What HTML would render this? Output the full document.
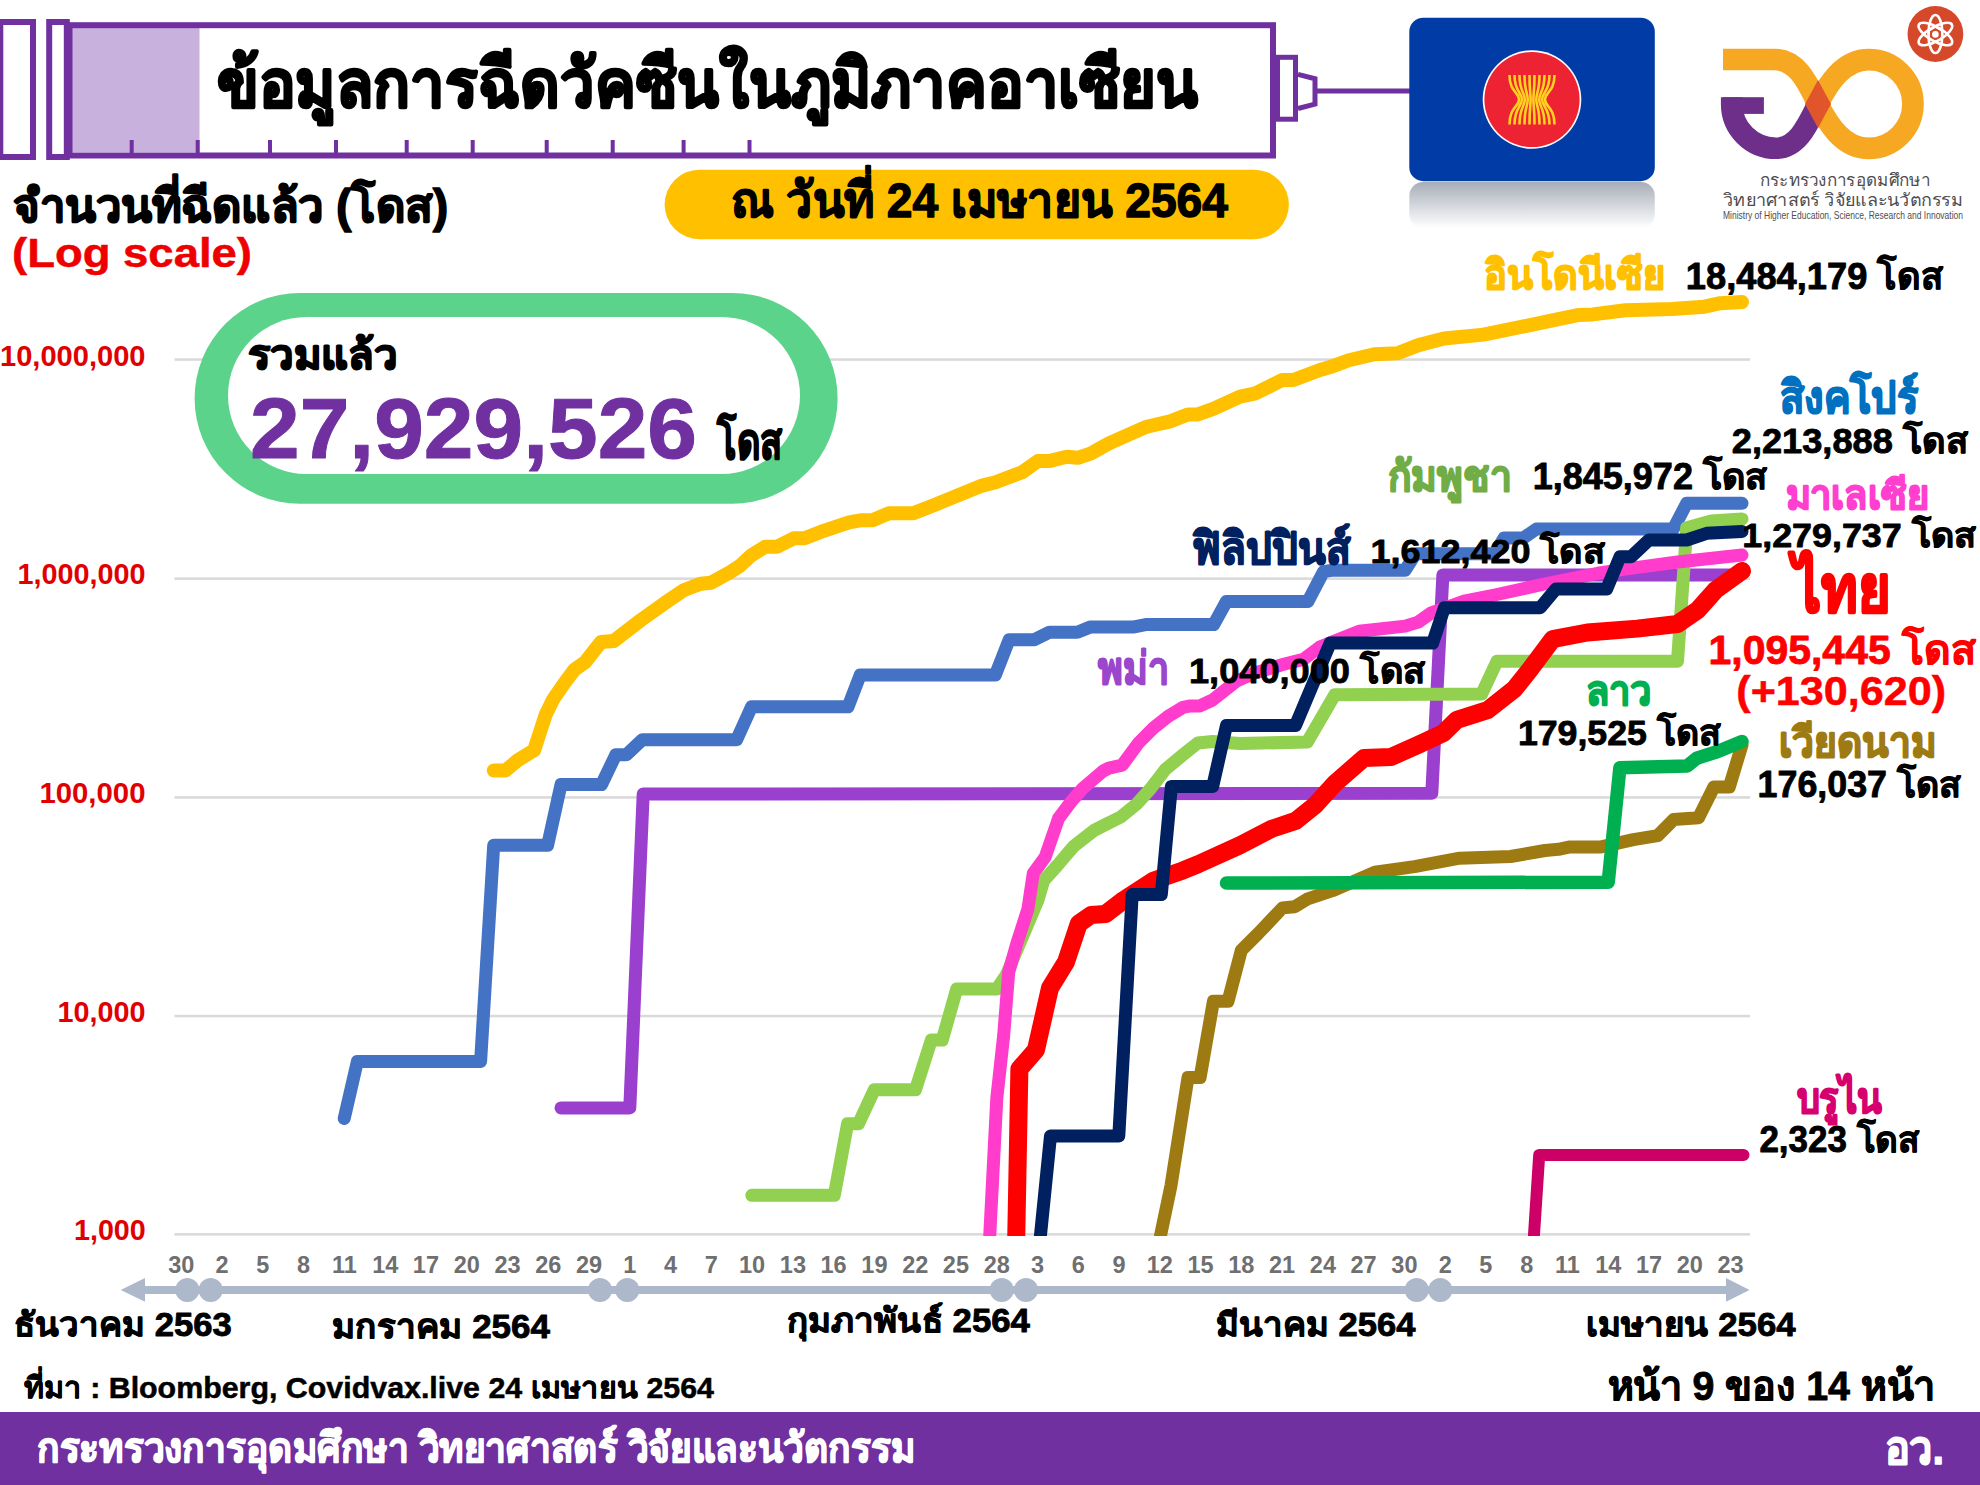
<!DOCTYPE html>
<html><head><meta charset="utf-8"><title>ASEAN vaccination</title>
<style>
html,body{margin:0;padding:0;background:#fff;width:1980px;height:1485px;overflow:hidden}
svg{display:block;font-family:"Liberation Sans",sans-serif;font-weight:bold}
</style></head><body>
<svg width="1980" height="1485" viewBox="0 0 1980 1485">
<defs>
<clipPath id="plot"><rect x="170" y="250" width="1620" height="986"/></clipPath>
<linearGradient id="refl" x1="0" y1="0" x2="0" y2="1">
<stop offset="0" stop-color="#9EA4B0"/><stop offset="0.45" stop-color="#C9CDD4"/><stop offset="1" stop-color="#FFFFFF"/>
</linearGradient>
</defs>

<rect x="72" y="28" width="127.5" height="124" fill="#C9B1DD"/>
<rect x="0.3" y="22" width="32.7" height="135" fill="none" stroke="#7030A0" stroke-width="6"/>
<rect x="49.2" y="22" width="17.6" height="135" fill="none" stroke="#7030A0" stroke-width="6"/>
<rect x="69.5" y="25.2" width="1203.5" height="130.3" fill="none" stroke="#7030A0" stroke-width="6"/>
<rect x="129.7" y="140" width="4" height="13" fill="#7030A0"/>
<rect x="195.7" y="140" width="4" height="13" fill="#7030A0"/>
<rect x="268.0" y="140" width="4" height="13" fill="#7030A0"/>
<rect x="334.0" y="140" width="4" height="13" fill="#7030A0"/>
<rect x="404.7" y="140" width="4" height="13" fill="#7030A0"/>
<rect x="470.7" y="140" width="4" height="13" fill="#7030A0"/>
<rect x="544.7" y="140" width="4" height="13" fill="#7030A0"/>
<rect x="610.7" y="140" width="4" height="13" fill="#7030A0"/>
<rect x="681.6" y="140" width="4" height="13" fill="#7030A0"/>
<rect x="747.5" y="140" width="4" height="13" fill="#7030A0"/>
<rect x="1277.5" y="57.3" width="18" height="61.9" fill="none" stroke="#7030A0" stroke-width="5"/>
<path d="M1298 74.4 L1315 78.8 L1315 104.1 L1298 108.5" fill="none" stroke="#7030A0" stroke-width="5"/>
<rect x="1317" y="88.5" width="93" height="5" fill="#7030A0"/>
<rect x="1409.3" y="182" width="245.5" height="46" fill="url(#refl)" opacity="0.9" rx="14"/>
<rect x="1409.3" y="17.7" width="245.5" height="163.5" rx="14" fill="#003BA6"/>
<circle cx="1532" cy="99.5" r="49.3" fill="#FFFFFF"/>
<circle cx="1532" cy="99.5" r="47.6" fill="#ED2233"/>
<path d="M1509.5 75 C1509.5 92 1519.0 92 1519.0 99.5 C1519.0 107 1509.5 107 1509.5 124.5 M1514.5 75 C1514.5 92 1521.9 92 1521.9 99.5 C1521.9 107 1514.5 107 1514.5 124.5 M1519.5 75 C1519.5 92 1524.8 92 1524.8 99.5 C1524.8 107 1519.5 107 1519.5 124.5 M1524.5 75 C1524.5 92 1527.7 92 1527.7 99.5 C1527.7 107 1524.5 107 1524.5 124.5 M1529.5 75 C1529.5 92 1530.6 92 1530.6 99.5 C1530.6 107 1529.5 107 1529.5 124.5 M1534.5 75 C1534.5 92 1533.4 92 1533.4 99.5 C1533.4 107 1534.5 107 1534.5 124.5 M1539.5 75 C1539.5 92 1536.3 92 1536.3 99.5 C1536.3 107 1539.5 107 1539.5 124.5 M1544.5 75 C1544.5 92 1539.2 92 1539.2 99.5 C1539.2 107 1544.5 107 1544.5 124.5 M1549.5 75 C1549.5 92 1542.1 92 1542.1 99.5 C1542.1 107 1549.5 107 1549.5 124.5 M1554.5 75 C1554.5 92 1545.0 92 1545.0 99.5 C1545.0 107 1554.5 107 1554.5 124.5" fill="none" stroke="#FFD21F" stroke-width="2.6"/>
<path d="M1818 104 C1808 124 1798 148.25 1776 148.25 A44.25 44.25 0 0 1 1731.75 104 V97.2" fill="none" stroke="#6E2F8A" stroke-width="21.7"/>
<rect x="1723" y="97.2" width="40.9" height="16.7" fill="#6E2F8A"/>
<path d="M1723 59.5 H1774 C1798 59.5 1808 84 1818 104 C1828 124 1843 148.3 1868.7 148.3 A44.25 44.25 0 0 0 1912.95 104 A44.25 44.25 0 0 0 1868.7 59.7 C1843 59.7 1828 84 1818 104" fill="none" stroke="#F7A823" stroke-width="21.7"/>
<path d="M1818 80 L1831 104 L1818 128 L1805 104 Z" fill="#E0562A"/>
<circle cx="1935.4" cy="34" r="27.9" fill="#D5492A"/>
<g fill="none" stroke="#fff" stroke-width="2.6"><ellipse cx="1935.4" cy="34" rx="7" ry="19"/><ellipse cx="1935.4" cy="34" rx="7" ry="19" transform="rotate(60 1935.4 34)"/><ellipse cx="1935.4" cy="34" rx="7" ry="19" transform="rotate(-60 1935.4 34)"/><polygon points="1935.40,41.70 1929.08,38.05 1929.08,30.75 1935.40,27.10 1941.72,30.75 1941.72,38.05" stroke-width="1.5"/></g><circle cx="1935.4" cy="34.4" r="3.3" fill="#fff"/>
<text x="1759.6" y="185.8" font-size="16.5" font-weight="normal" fill="#4D4D4F" textLength="170.4" lengthAdjust="spacingAndGlyphs">กระทรวงการอุดมศึกษา</text>
<text x="1723" y="206" font-size="17.5" font-weight="normal" fill="#4D4D4F" textLength="240" lengthAdjust="spacingAndGlyphs">วิทยาศาสตร์ วิจัยและนวัตกรรม</text>
<text x="1723" y="219" font-size="10.5" font-weight="normal" fill="#4D4D4F" textLength="240" lengthAdjust="spacingAndGlyphs">Ministry of Higher Education, Science, Research and Innovation</text>
<rect x="174.5" y="358.3" width="1575.5" height="2.5" fill="#D9D9D9"/>
<rect x="174.5" y="577.4" width="1575.5" height="2.5" fill="#D9D9D9"/>
<rect x="174.5" y="796.2" width="1575.5" height="2.5" fill="#D9D9D9"/>
<rect x="174.5" y="1014.8" width="1575.5" height="2.5" fill="#D9D9D9"/>
<rect x="174.5" y="1233.1" width="1575.5" height="2.5" fill="#D9D9D9"/>
<rect x="664.6" y="169.7" width="624.3" height="69.5" rx="34.75" fill="#FFC000"/>
<rect x="194.6" y="293" width="643" height="210.7" rx="105.3" fill="#5BD38B"/>
<rect x="228" y="317" width="572" height="157" rx="78.5" fill="#FFFFFF"/>
<g clip-path="url(#plot)" fill="none" stroke-linejoin="round" stroke-linecap="round">
<path d="M344.2 1118.5 L357.4 1061.4 L480.6 1061.4 L493.7 845.3 L547.6 845.3 L561.0 784.6 L601.5 784.6 L615.8 754.8 L626.4 754.8 L642.3 739.7 L736.7 739.7 L751.5 706.8 L848.0 706.8 L860.2 675.1 L995.3 675.1 L1009.2 639.7 L1034.4 639.7 L1049.6 632.2 L1077.4 632.2 L1090.0 627.1 L1132.9 627.1 L1145.6 624.6 L1213.7 624.6 L1226.4 601.5 L1307.9 601.5 L1323.6 571.6 L1331.5 570.3 L1405.1 570.3 L1415.6 553.8 L1494.4 553.8 L1504.0 538.1 L1523.2 538.1 L1536.4 529.0 L1673.3 529.0 L1686.7 503.3 L1742.0 503.3" stroke="#4472C4" stroke-width="13"/>
<path d="M561.0 1107.9 L629.8 1107.9 L643.2 794.0 L1431.8 793.3 L1442.9 574.9 L1729.0 575.0" stroke="#9B3FCF" stroke-width="13"/>
<path d="M751.8 1195.3 L834.3 1195.3 L847.6 1123.7 L858.5 1123.7 L874.3 1089.8 L915.5 1089.8 L931.3 1040.1 L942.2 1040.1 L956.7 989.1 L996.8 989.1 L1006.5 974.6 L1038.0 900.0 L1043.7 880.7 L1057.0 865.9 L1073.3 846.7 L1094.1 830.4 L1105.9 824.4 L1120.7 817.0 L1137.0 803.7 L1150.4 788.9 L1165.2 769.6 L1183.0 754.8 L1197.8 743.0 L1212.6 741.5 L1240.0 743.5 L1307.3 742.1 L1334.8 694.8 L1481.7 693.9 L1497.0 661.3 L1677.5 661.3 L1686.7 527.8 L1711.1 521.1 L1742.0 519.0" stroke="#92D050" stroke-width="13"/>
<path d="M989.0 1250.0 L996.8 1098.3 L1003.7 1035.2 L1008.7 972.2 L1017.0 943.0 L1027.9 909.1 L1033.3 873.3 L1045.2 857.0 L1058.5 818.5 L1071.9 800.7 L1082.2 788.9 L1103.0 771.1 L1108.9 768.1 L1122.2 765.2 L1138.5 743.0 L1153.3 728.1 L1168.1 716.3 L1183.0 707.4 L1190.4 705.9 L1200.0 705.9 L1212.6 700.0 L1236.4 681.1 L1254.1 673.2 L1283.6 664.3 L1303.3 659.4 L1319.7 647.1 L1359.1 631.3 L1405.1 626.1 L1418.2 622.1 L1431.3 612.9 L1464.2 601.1 L1497.0 594.5 L1544.3 584.0 L1597.8 573.3 L1626.7 568.9 L1675.6 562.2 L1742.0 555.0" stroke="#FF3CCC" stroke-width="13"/>
<path d="M1016.0 1250.0 L1019.4 1069.0 L1036.0 1049.8 L1050.0 988.0 L1066.0 962.0 L1078.8 923.7 L1091.0 915.0 L1105.5 914.0 L1123.7 900.0 L1153.3 880.7 L1183.0 870.4 L1197.8 864.4 L1240.0 845.2 L1271.8 828.8 L1295.5 820.9 L1315.1 805.2 L1334.8 783.5 L1364.0 758.0 L1391.0 757.0 L1418.4 744.7 L1443.3 733.2 L1456.8 719.8 L1487.5 710.2 L1514.3 689.1 L1529.7 669.9 L1552.7 639.2 L1587.3 632.5 L1637.2 628.6 L1677.5 624.0 L1697.8 610.0 L1715.6 590.0 L1742.0 571.0" stroke="#FF0000" stroke-width="18"/>
<path d="M1039.0 1250.0 L1050.5 1136.0 L1118.8 1136.0 L1132.2 894.6 L1161.3 894.6 L1171.4 786.4 L1212.7 786.4 L1226.5 725.4 L1295.5 725.4 L1330.2 643.1 L1432.6 643.1 L1444.4 607.7 L1540.3 607.7 L1556.0 588.9 L1606.7 588.9 L1620.0 556.7 L1631.1 556.7 L1648.9 540.0 L1686.7 540.0 L1706.7 533.3 L1742.0 531.5" stroke="#002060" stroke-width="13"/>
<path d="M1157.5 1250.0 L1171.0 1185.6 L1188.0 1077.6 L1200.1 1077.6 L1213.4 1001.3 L1228.0 1001.3 L1241.3 950.3 L1258.3 933.4 L1282.5 907.9 L1294.7 906.7 L1307.0 899.2 L1332.4 890.7 L1374.9 872.3 L1414.5 866.6 L1459.7 858.2 L1510.6 856.5 L1545.0 850.5 L1558.5 849.3 L1570.0 846.9 L1601.2 846.9 L1633.3 839.7 L1657.7 835.6 L1673.6 819.6 L1698.6 817.7 L1713.9 787.0 L1729.3 787.0 L1742.0 745.0" stroke="#9E7B12" stroke-width="13"/>
<path d="M1226.5 883.0 L1608.2 882.2 L1619.9 767.8 L1687.1 765.9 L1696.7 758.2 L1717.8 751.5 L1742.0 741.5" stroke="#00B050" stroke-width="13.5"/>
<path d="M1533.0 1250.0 L1539.2 1155.0 L1743.5 1155.0" stroke="#CC0066" stroke-width="12"/>
<path d="M493.8 770.5 L505.5 770.5 L518.2 759.9 L534.1 750.3 L545.8 714.3 L553.2 699.4 L564.9 682.4 L574.4 669.7 L585.0 662.3 L600.9 642.1 L613.6 641.1 L641.2 619.9 L666.7 601.8 L683.6 590.2 L700.6 583.8 L711.2 582.7 L730.3 572.1 L739.9 565.8 L751.5 555.2 L765.3 546.7 L777.0 546.7 L794.0 538.2 L804.6 538.2 L823.7 530.8 L849.1 522.3 L861.8 520.2 L872.5 520.2 L888.9 513.3 L913.3 513.3 L935.6 504.4 L982.2 485.6 L995.6 482.2 L1022.2 472.2 L1037.8 461.1 L1048.9 461.1 L1066.7 456.7 L1077.8 457.8 L1091.1 453.3 L1108.9 443.3 L1146.7 426.7 L1171.1 421.1 L1187.8 414.4 L1197.8 414.4 L1213.3 408.9 L1240.0 396.7 L1255.6 393.3 L1282.2 380.0 L1293.3 380.0 L1320.0 370.0 L1330.2 367.1 L1348.8 360.2 L1374.3 354.3 L1397.6 353.2 L1418.5 345.1 L1444.0 338.5 L1483.5 334.6 L1534.7 324.1 L1578.8 314.9 L1592.8 314.4 L1625.3 310.2 L1671.7 309.0 L1704.3 306.7 L1720.5 303.2 L1742.0 302.0" stroke="#FFC000" stroke-width="14"/>
</g>
<rect x="140" y="1286" width="1590" height="8" fill="#ADB9CA"/>
<path d="M120.7 1290 L145 1278 L145 1301.7 Z M1749.6 1290 L1726 1278 L1726 1301.7 Z" fill="#ADB9CA"/>
<circle cx="187.3" cy="1290" r="12" fill="#ADB9CA"/>
<circle cx="210.7" cy="1290" r="12" fill="#ADB9CA"/>
<circle cx="600" cy="1290" r="12" fill="#ADB9CA"/>
<circle cx="627.3" cy="1290" r="12" fill="#ADB9CA"/>
<circle cx="1001.7" cy="1290" r="12" fill="#ADB9CA"/>
<circle cx="1026" cy="1290" r="12" fill="#ADB9CA"/>
<circle cx="1416.7" cy="1290" r="12" fill="#ADB9CA"/>
<circle cx="1440.3" cy="1290" r="12" fill="#ADB9CA"/>
<g font-size="23.5" fill="#6F6F6F" text-anchor="middle">
<text x="181.3" y="1272.7">30</text>
<text x="222.1" y="1272.7">2</text>
<text x="262.8" y="1272.7">5</text>
<text x="303.6" y="1272.7">8</text>
<text x="344.4" y="1272.7">11</text>
<text x="385.2" y="1272.7">14</text>
<text x="425.9" y="1272.7">17</text>
<text x="466.7" y="1272.7">20</text>
<text x="507.5" y="1272.7">23</text>
<text x="548.2" y="1272.7">26</text>
<text x="589.0" y="1272.7">29</text>
<text x="629.8" y="1272.7">1</text>
<text x="670.5" y="1272.7">4</text>
<text x="711.3" y="1272.7">7</text>
<text x="752.1" y="1272.7">10</text>
<text x="792.9" y="1272.7">13</text>
<text x="833.6" y="1272.7">16</text>
<text x="874.4" y="1272.7">19</text>
<text x="915.2" y="1272.7">22</text>
<text x="955.9" y="1272.7">25</text>
<text x="996.7" y="1272.7">28</text>
<text x="1037.5" y="1272.7">3</text>
<text x="1078.2" y="1272.7">6</text>
<text x="1119.0" y="1272.7">9</text>
<text x="1159.8" y="1272.7">12</text>
<text x="1200.6" y="1272.7">15</text>
<text x="1241.3" y="1272.7">18</text>
<text x="1282.1" y="1272.7">21</text>
<text x="1322.9" y="1272.7">24</text>
<text x="1363.6" y="1272.7">27</text>
<text x="1404.4" y="1272.7">30</text>
<text x="1445.2" y="1272.7">2</text>
<text x="1485.9" y="1272.7">5</text>
<text x="1526.7" y="1272.7">8</text>
<text x="1567.5" y="1272.7">11</text>
<text x="1608.2" y="1272.7">14</text>
<text x="1649.0" y="1272.7">17</text>
<text x="1689.8" y="1272.7">20</text>
<text x="1730.6" y="1272.7">23</text>
</g>
<rect x="0" y="1412" width="1980" height="73" fill="#7030A0"/>
<text x="217" y="107" font-size="67" fill="#000" stroke="#000" stroke-width="2.55" stroke-linejoin="round" textLength="981.0" lengthAdjust="spacingAndGlyphs">ข้อมูลการฉีดวัคซีนในภูมิภาคอาเซียน</text>
<text x="13" y="222" font-size="46" fill="#000" stroke="#000" stroke-width="1.7" stroke-linejoin="round" textLength="435.0" lengthAdjust="spacingAndGlyphs">จำนวนที่ฉีดแล้ว (โดส)</text>
<text x="12" y="267" font-size="40" fill="#EE0000" stroke="#EE0000" stroke-width="0.5" stroke-linejoin="round" textLength="240.0" lengthAdjust="spacingAndGlyphs">(Log scale)</text>
<text x="731" y="217" font-size="49" fill="#000" stroke="#000" stroke-width="1.36" stroke-linejoin="round" textLength="497.0" lengthAdjust="spacingAndGlyphs">ณ วันที่ 24 เมษายน 2564</text>
<text x="248" y="369" font-size="41" fill="#000" stroke="#000" stroke-width="1.7" stroke-linejoin="round" textLength="149.0" lengthAdjust="spacingAndGlyphs">รวมแล้ว</text>
<text x="250" y="458" font-size="86" fill="#7030A0" stroke="#7030A0" stroke-width="1" stroke-linejoin="round" textLength="447.0" lengthAdjust="spacingAndGlyphs">27,929,526</text>
<text x="717" y="459" font-size="50" fill="#000" stroke="#000" stroke-width="1.7" stroke-linejoin="round" textLength="65.0" lengthAdjust="spacingAndGlyphs">โดส</text>
<text x="0" y="365.6" font-size="29" fill="#E00000" textLength="145.5" lengthAdjust="spacingAndGlyphs">10,000,000</text>
<text x="17.4" y="584" font-size="29" fill="#E00000" textLength="128.1" lengthAdjust="spacingAndGlyphs">1,000,000</text>
<text x="39.4" y="802.8" font-size="29" fill="#E00000" textLength="106.1" lengthAdjust="spacingAndGlyphs">100,000</text>
<text x="57.6" y="1022" font-size="29" fill="#E00000" textLength="87.9" lengthAdjust="spacingAndGlyphs">10,000</text>
<text x="74" y="1240" font-size="29" fill="#E00000" textLength="71.7" lengthAdjust="spacingAndGlyphs">1,000</text>
<text x="14" y="1336" font-size="33" fill="#000" stroke="#000" stroke-width="0.85" stroke-linejoin="round" textLength="217.7" lengthAdjust="spacingAndGlyphs">ธันวาคม 2563</text>
<text x="332" y="1338" font-size="33" fill="#000" stroke="#000" stroke-width="0.85" stroke-linejoin="round" textLength="218.0" lengthAdjust="spacingAndGlyphs">มกราคม 2564</text>
<text x="786.7" y="1331.7" font-size="33" fill="#000" stroke="#000" stroke-width="0.85" stroke-linejoin="round" textLength="243.3" lengthAdjust="spacingAndGlyphs">กุมภาพันธ์ 2564</text>
<text x="1215.8" y="1335.6" font-size="33" fill="#000" stroke="#000" stroke-width="0.85" stroke-linejoin="round" textLength="199.7" lengthAdjust="spacingAndGlyphs">มีนาคม 2564</text>
<text x="1586" y="1336" font-size="33" fill="#000" stroke="#000" stroke-width="0.85" stroke-linejoin="round" textLength="209.7" lengthAdjust="spacingAndGlyphs">เมษายน 2564</text>
<text x="24" y="1398.3" font-size="30" fill="#000" stroke="#000" stroke-width="0.51" stroke-linejoin="round" textLength="690.0" lengthAdjust="spacingAndGlyphs">ที่มา : Bloomberg, Covidvax.live 24 เมษายน 2564</text>
<text x="1607.8" y="1400.2" font-size="40" fill="#000" stroke="#000" stroke-width="0.85" stroke-linejoin="round" textLength="327.0" lengthAdjust="spacingAndGlyphs">หน้า 9 ของ 14 หน้า</text>
<text x="37" y="1461.7" font-size="41" fill="#FFF" stroke="#FFF" stroke-width="1.36" stroke-linejoin="round" textLength="878.0" lengthAdjust="spacingAndGlyphs">กระทรวงการอุดมศึกษา วิทยาศาสตร์ วิจัยและนวัตกรรม</text>
<text x="1884.8" y="1464.4" font-size="47" fill="#FFF" stroke="#FFF" stroke-width="1.36" stroke-linejoin="round" textLength="59.1" lengthAdjust="spacingAndGlyphs">อว.</text>
<text x="1483.6" y="288.6" font-size="41" fill="#FFC000" stroke="#FFC000" stroke-width="1.7" stroke-linejoin="round" textLength="181.2" lengthAdjust="spacingAndGlyphs">อินโดนีเซีย</text>
<text x="1685.8" y="288.6" font-size="37" fill="#000" stroke="#000" stroke-width="0.85" stroke-linejoin="round" textLength="257.4" lengthAdjust="spacingAndGlyphs">18,484,179 โดส</text>
<text x="1780.4" y="413.3" font-size="45" fill="#0070C0" stroke="#0070C0" stroke-width="1.7" stroke-linejoin="round" textLength="137.8" lengthAdjust="spacingAndGlyphs">สิงคโปร์</text>
<text x="1731.8" y="452.7" font-size="35" fill="#000" stroke="#000" stroke-width="0.85" stroke-linejoin="round" textLength="236.2" lengthAdjust="spacingAndGlyphs">2,213,888 โดส</text>
<text x="1388" y="490.5" font-size="42" fill="#70AD47" stroke="#70AD47" stroke-width="1.7" stroke-linejoin="round" textLength="124.2" lengthAdjust="spacingAndGlyphs">กัมพูชา</text>
<text x="1532.7" y="489" font-size="36" fill="#000" stroke="#000" stroke-width="0.85" stroke-linejoin="round" textLength="234.3" lengthAdjust="spacingAndGlyphs">1,845,972 โดส</text>
<text x="1785.6" y="509.2" font-size="40" fill="#FF3FCF" stroke="#FF3FCF" stroke-width="1.7" stroke-linejoin="round" textLength="143.1" lengthAdjust="spacingAndGlyphs">มาเลเซีย</text>
<text x="1742.3" y="547.2" font-size="34" fill="#000" stroke="#000" stroke-width="0.85" stroke-linejoin="round" textLength="233.7" lengthAdjust="spacingAndGlyphs">1,279,737 โดส</text>
<text x="1191.8" y="564" font-size="45" fill="#002060" stroke="#002060" stroke-width="1.7" stroke-linejoin="round" textLength="158.2" lengthAdjust="spacingAndGlyphs">ฟิลิปปินส์</text>
<text x="1370.4" y="562.7" font-size="34" fill="#000" stroke="#000" stroke-width="0.85" stroke-linejoin="round" textLength="234.6" lengthAdjust="spacingAndGlyphs">1,612,420 โดส</text>
<text x="1097.7" y="684" font-size="45" fill="#9B47CC" stroke="#9B47CC" stroke-width="1.7" stroke-linejoin="round" textLength="70.9" lengthAdjust="spacingAndGlyphs">พม่า</text>
<text x="1189" y="682.7" font-size="35" fill="#000" stroke="#000" stroke-width="0.85" stroke-linejoin="round" textLength="236.0" lengthAdjust="spacingAndGlyphs">1,040,000 โดส</text>
<text x="1793" y="612" font-size="67" fill="#FF0000" stroke="#FF0000" stroke-width="2.55" stroke-linejoin="round" textLength="97.3" lengthAdjust="spacingAndGlyphs">ไทย</text>
<text x="1708.5" y="663.7" font-size="41" fill="#FF0000" stroke="#FF0000" stroke-width="0.85" stroke-linejoin="round" textLength="267.5" lengthAdjust="spacingAndGlyphs">1,095,445 โดส</text>
<text x="1736.3" y="705.4" font-size="41" fill="#FF0000" stroke="#FF0000" stroke-width="0.5" stroke-linejoin="round" textLength="209.7" lengthAdjust="spacingAndGlyphs">(+130,620)</text>
<text x="1586" y="705.4" font-size="41" fill="#00B050" stroke="#00B050" stroke-width="1.7" stroke-linejoin="round" textLength="65.7" lengthAdjust="spacingAndGlyphs">ลาว</text>
<text x="1517.9" y="744.5" font-size="35.5" fill="#000" stroke="#000" stroke-width="0.85" stroke-linejoin="round" textLength="203.3" lengthAdjust="spacingAndGlyphs">179,525 โดส</text>
<text x="1778.8" y="757.3" font-size="42" fill="#9E7B12" stroke="#9E7B12" stroke-width="1.7" stroke-linejoin="round" textLength="158.2" lengthAdjust="spacingAndGlyphs">เวียดนาม</text>
<text x="1757.6" y="796.7" font-size="36" fill="#000" stroke="#000" stroke-width="0.85" stroke-linejoin="round" textLength="203.0" lengthAdjust="spacingAndGlyphs">176,037 โดส</text>
<text x="1796.7" y="1113.3" font-size="43" fill="#D6006F" stroke="#D6006F" stroke-width="1.7" stroke-linejoin="round" textLength="85.0" lengthAdjust="spacingAndGlyphs">บรูไน</text>
<text x="1759.4" y="1152.2" font-size="36" fill="#000" stroke="#000" stroke-width="0.85" stroke-linejoin="round" textLength="159.5" lengthAdjust="spacingAndGlyphs">2,323 โดส</text>
</svg></body></html>
